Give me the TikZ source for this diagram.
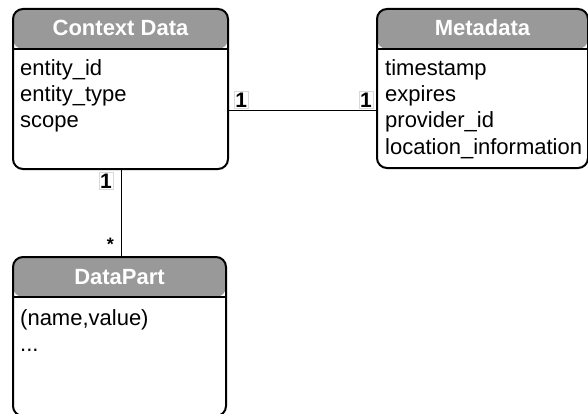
\documentclass[tikz,border=0pt]{standalone}
\usepackage{fontspec}
\setmainfont{Liberation Sans}
\begin{document}
\begin{tikzpicture}[x=1pt,y=-1pt,
  headgray/.style={fill={rgb,255:red,153;green,153;blue,153}},
  classbox/.style={draw=black, line width=2pt, fill=white,
    rounded corners=10pt, anchor=north west, inner sep=0pt,
    path picture={
      \fill[headgray] (path picture bounding box.north west)
        rectangle ([yshift=-40pt]path picture bounding box.north east);
      \draw[line width=2pt] ([yshift=-40pt]path picture bounding box.north west)
        -- ([yshift=-40pt]path picture bounding box.north east);
    }},
  classtitle/.style={text=white, font=\fontsize{22}{26}\selectfont\bfseries,
    anchor=base, inner sep=0pt},
  % anchored at the baseline of the last line
  attrs/.style={font=\fontsize{22}{26}\selectfont, align=left,
    anchor=base west, inner sep=0pt},
  assoc/.style={draw=black, line width=0.9pt},
  mult/.style={draw=black!15, fill=white, line width=0.5pt,
    font=\fontsize{21}{22}\selectfont\bfseries, inner xsep=1pt, inner ysep=1.5pt},
  star/.style={font=\fontsize{18}{20}\selectfont\bfseries, inner sep=0pt}
]
\useasboundingbox (0,0) rectangle (588,414);

% classes
\node[classbox, minimum width=215pt, minimum height=160pt] (ctx) at (12,8) {};
\node[classbox, minimum width=211pt, minimum height=159pt] (meta) at (376,8) {};
\node[classbox, minimum width=213pt, minimum height=159pt] (part) at (12,256) {};

% titles
\node[classtitle] (ctxtitle) at ([yshift=-28pt]ctx.north) {Context Data};
\node[classtitle] (metatitle) at ([yshift=-28pt]meta.north) {Metadata};
\node[classtitle] (parttitle) at ([yshift=-28pt]part.north) {DataPart};

% attributes
\node[attrs] (ctxattrs) at (20,128) {entity\_id\\entity\_type\\scope};
\node[attrs] (metaattrs) at (385,154) {timestamp\\expires\\provider\_id\\location\_information};
\node[attrs] (partattrs) at (20,351) {(name,value)\\...};

% associations
\coordinate (ctxr) at ([yshift=-21pt]ctx.east);
\coordinate (metal) at (ctxr -| meta.west);
\draw[assoc] (ctxr) -- (metal);
\coordinate (ctxb) at ([xshift=0.5pt]ctx.south);
\coordinate (partt) at (ctxb |- part.north);
\draw[assoc] (ctxb) -- (partt);

% multiplicities
\node[mult, anchor=south west] (m1) at ([xshift=5pt,yshift=1pt]ctxr) {1};
\node[mult, anchor=south east] (m2) at ([xshift=-3pt,yshift=1pt]metal) {1};
\node[mult, anchor=north east] (m3) at ([xshift=-8pt,yshift=-2pt]ctxb) {1};
\node[star, anchor=east] (m4) at ([xshift=-7pt,yshift=12pt]partt) {*};
\end{tikzpicture}
\end{document}
